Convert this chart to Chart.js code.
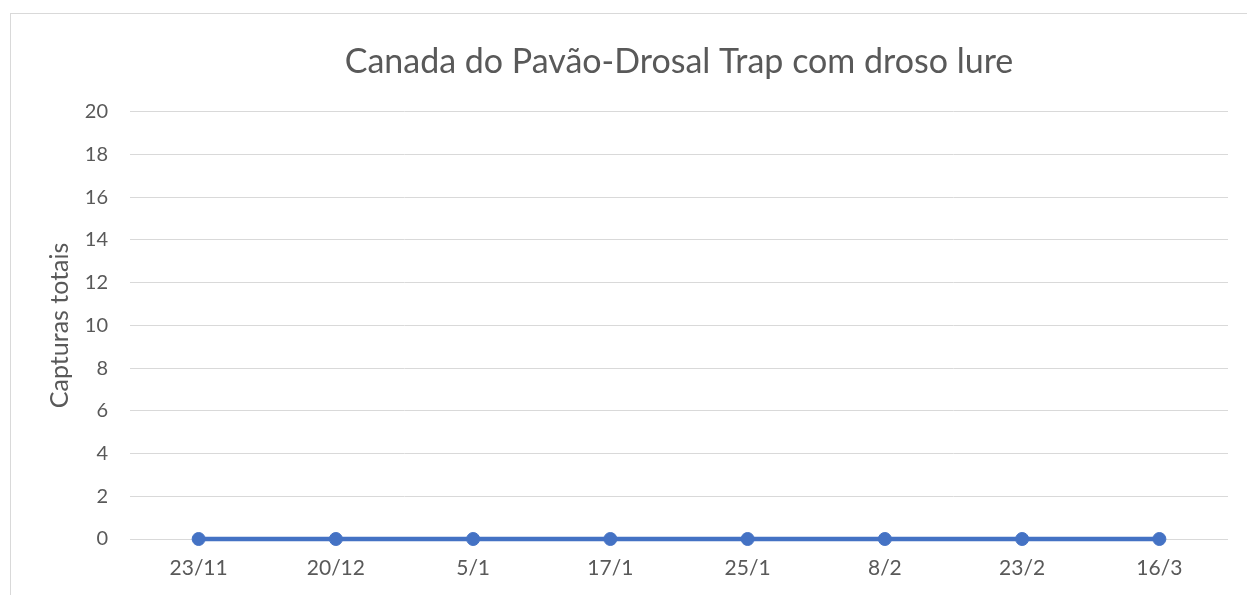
<!DOCTYPE html>
<html lang="pt">
<head>
<meta charset="UTF-8">
<title>Canada do Pavão</title>
<script src="https://cdn.jsdelivr.net/npm/chart.js"></script>
<style>
    body { margin: 0; background: #fff; overflow: hidden; }
    .moldura { position: absolute; left: 10px; top: 13px; width: 1400px; height: 800px; border: 1px solid #d9d9d9; }
    .grafico { position: absolute; left: 0; top: 0; width: 1247px; height: 595px; }
</style>
</head>
<body>
<div class="moldura"></div>
<div class="grafico"><canvas id="grafico"></canvas></div>
<script>
    // datas das recolhas
    const datas = ['23/11', '20/12', '5/1', '17/1', '25/1', '8/2', '23/2', '16/3'];
    // capturas totais em cada data
    const capturas = [0, 0, 0, 0, 0, 0, 0, 0];
    // eixo y
    const yMin = 0;
    const yMax = 20;
    const yPasso = 2;

    const fonte = "Lato, 'Open Sans', sans-serif";
    const cinza = '#595959';

    const config = {
        type: 'line',
        data: {
            labels: datas,
            datasets: [{
                label: 'Capturas',
                data: capturas,
                borderColor: '#4472C4',
                backgroundColor: '#4472C4',
                borderWidth: 4.5,
                pointRadius: 6.5,
                pointBorderWidth: 1,
                pointHoverRadius: 6.5,
                clip: false
            }]
        },
        options: {
            responsive: true,
            maintainAspectRatio: false,
            animation: false,
            layout: { padding: { left: 0, right: 19, top: 0, bottom: 0 } },
            plugins: {
                legend: { display: false },
                tooltip: { enabled: false },
                title: {
                    display: true,
                    fullSize: false,
                    text: 'Canada do Pavão-Drosal Trap com droso lure',
                    color: cinza,
                    font: { family: fonte, size: 34, weight: 'normal' },
                    padding: { top: 42, bottom: 29 }
                }
            },
            scales: {
                x: {
                    offset: true,
                    grid: { display: false, drawTicks: false },
                    border: { display: false },
                    ticks: { color: cinza, font: { family: fonte, size: 21 }, padding: 17, maxRotation: 0 },
                    afterFit: function (s) { s.height = 56; }
                },
                y: {
                    min: yMin,
                    max: yMax,
                    ticks: { stepSize: yPasso, color: cinza, font: { family: fonte, size: 20 }, padding: 22 },
                    grid: { color: '#d9d9d9', lineWidth: 1, drawTicks: false },
                    border: { display: false },
                    title: {
                        display: true,
                        text: 'Capturas totais',
                        color: cinza,
                        font: { family: fonte, size: 25 },
                        padding: { top: 45, bottom: 0 }
                    },
                    afterFit: function (s) { s.width = 130; }
                }
            }
        }
    };

    const grafico = new Chart(document.getElementById('grafico'), config);
</script>
</body>
</html>
